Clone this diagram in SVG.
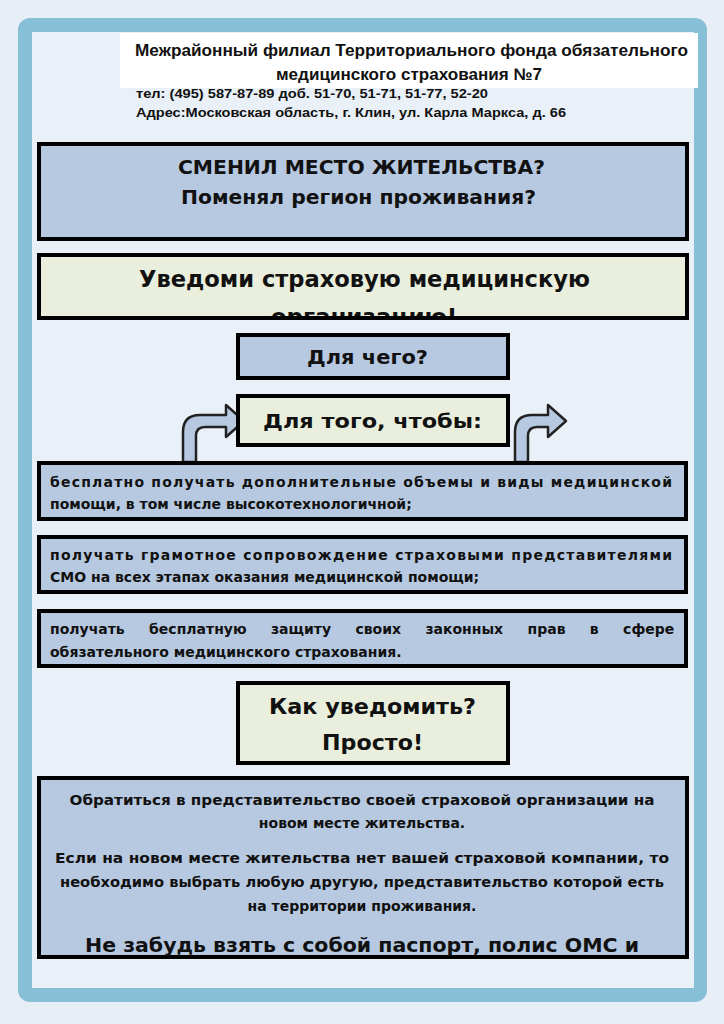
<svg xmlns="http://www.w3.org/2000/svg" width="724" height="1024" viewBox="0 0 724 1024">
<style>
text{font-family:"Liberation Sans",Arial,sans-serif;font-weight:bold;fill:#111}
.h{font-family:"DejaVu Sans",Verdana,sans-serif;font-weight:bold}
.b{fill:#b7c9e0;stroke:#000;stroke-width:4}
.g{fill:#e9efdc;stroke:#000;stroke-width:4}
.l{font-size:14px;font-family:"DejaVu Sans",Verdana,sans-serif}
.c{text-anchor:middle}
.ar{fill:#b7c9e0;stroke:#222;stroke-width:2.5;stroke-linejoin:round}
</style>
<defs>
<clipPath id="c2"><rect x="40" y="256" width="646" height="60"/></clipPath>
<clipPath id="c3"><rect x="40" y="779" width="646" height="177"/></clipPath>
</defs>
<rect width="724" height="1024" fill="#e8eef6"/>
<rect x="18" y="18" width="689" height="984" rx="12" fill="#87c0d6"/>
<rect x="32" y="32" width="662" height="956" fill="#e9f0f7"/>
<g id="header">
<rect x="120" y="33" width="578" height="55" fill="#fff"/>
<text x="135" y="56" font-size="16.5" textLength="553" lengthAdjust="spacingAndGlyphs">Межрайонный филиал Территориального фонда обязательного</text>
<text x="276" y="80" font-size="16.5" textLength="266" lengthAdjust="spacingAndGlyphs">медицинского страхования №7</text>
<text x="136" y="98" font-size="13.5" textLength="352" lengthAdjust="spacingAndGlyphs">тел: (495) 587-87-89 доб. 51-70, 51-71, 51-77, 52-20</text>
<text x="136" y="117" font-size="13.5" textLength="430" lengthAdjust="spacingAndGlyphs">Адрес:Московская область, г. Клин, ул. Карла Маркса, д. 66</text>
</g>
<g id="box1">
<rect class="b" x="39" y="144" width="648" height="95"/>
<text x="178" y="174" class="h" font-size="20" textLength="367" lengthAdjust="spacingAndGlyphs">СМЕНИЛ МЕСТО ЖИТЕЛЬСТВА?</text>
<text x="181" y="204" class="h" font-size="20" textLength="355" lengthAdjust="spacingAndGlyphs">Поменял регион проживания?</text>
</g>
<g id="box2">
<rect class="g" x="39" y="255" width="648" height="63"/>
<g clip-path="url(#c2)">
<text x="139" y="287" class="h" font-size="23" textLength="451" lengthAdjust="spacingAndGlyphs">Уведоми страховую медицинскую</text>
<text x="364" y="325" class="h c" font-size="23">организацию!</text>
</g>
</g>
<g id="why">
<rect class="b" x="238" y="335" width="270" height="43"/>
<text x="307" y="364" class="h" font-size="20" textLength="121" lengthAdjust="spacingAndGlyphs">Для чего?</text>
</g>
<g id="connectors">
<path class="ar" d="M183,462 V432 Q183,415 200,415 H226 V405 L244,421 L226,437 V427 H205 Q196,427 196,436 V462 Z"/>
<path class="ar" d="M515,462 V432 Q515,415 532,415 H548 V405 L566,421 L548,437 V427 H537 Q528,427 528,436 V462 Z"/>
</g>
<g id="so">
<rect class="g" x="238" y="396" width="270" height="49"/>
<text x="263" y="428" class="h" font-size="20" textLength="219" lengthAdjust="spacingAndGlyphs">Для того, чтобы:</text>
</g>
<g id="item1">
<rect class="b" x="39" y="463" width="647" height="56"/>
<text x="50" y="487" class="l" textLength="622">бесплатно получать дополнительные объемы и виды медицинской</text>
<text x="50" y="509" class="l">помощи, в том числе высокотехнологичной;</text>
</g>
<g id="item2">
<rect class="b" x="39" y="537" width="647" height="55"/>
<text x="50" y="560" class="l" textLength="622">получать грамотное сопровождение страховыми представителями</text>
<text x="50" y="582" class="l">СМО на всех этапах оказания медицинской помощи;</text>
</g>
<g id="item3">
<rect class="b" x="39" y="611" width="647" height="55"/>
<text x="50" y="634" class="l" word-spacing="19.5">получать бесплатную защиту своих законных прав в сфере</text>
<text x="50" y="657" class="l">обязательного медицинского страхования.</text>
</g>
<g id="how">
<rect class="g" x="238" y="683" width="270" height="80"/>
<text x="269" y="714" class="h" font-size="21" textLength="207" lengthAdjust="spacingAndGlyphs">Как уведомить?</text>
<text x="322" y="750" class="h" font-size="21" textLength="101" lengthAdjust="spacingAndGlyphs">Просто!</text>
</g>
<g id="bottom">
<rect class="b" x="39" y="778" width="648" height="179"/>
<g clip-path="url(#c3)">
<text x="362" y="805" class="l c" textLength="585" lengthAdjust="spacingAndGlyphs">Обратиться в представительство своей страховой организации на</text>
<text x="362" y="828" class="l c">новом месте жительства.</text>
<text x="362" y="863" class="l c" textLength="614" lengthAdjust="spacingAndGlyphs">Если на новом месте жительства нет вашей страховой компании, то</text>
<text x="362" y="887" class="l c" textLength="604" lengthAdjust="spacingAndGlyphs">необходимо выбрать любую другую, представительство которой есть</text>
<text x="362" y="911" class="l c">на территории проживания.</text>
<text x="85" y="952" class="h" font-size="20" textLength="554" lengthAdjust="spacingAndGlyphs">Не забудь взять с собой паспорт, полис ОМС и</text>
</g>
</g>
</svg>
